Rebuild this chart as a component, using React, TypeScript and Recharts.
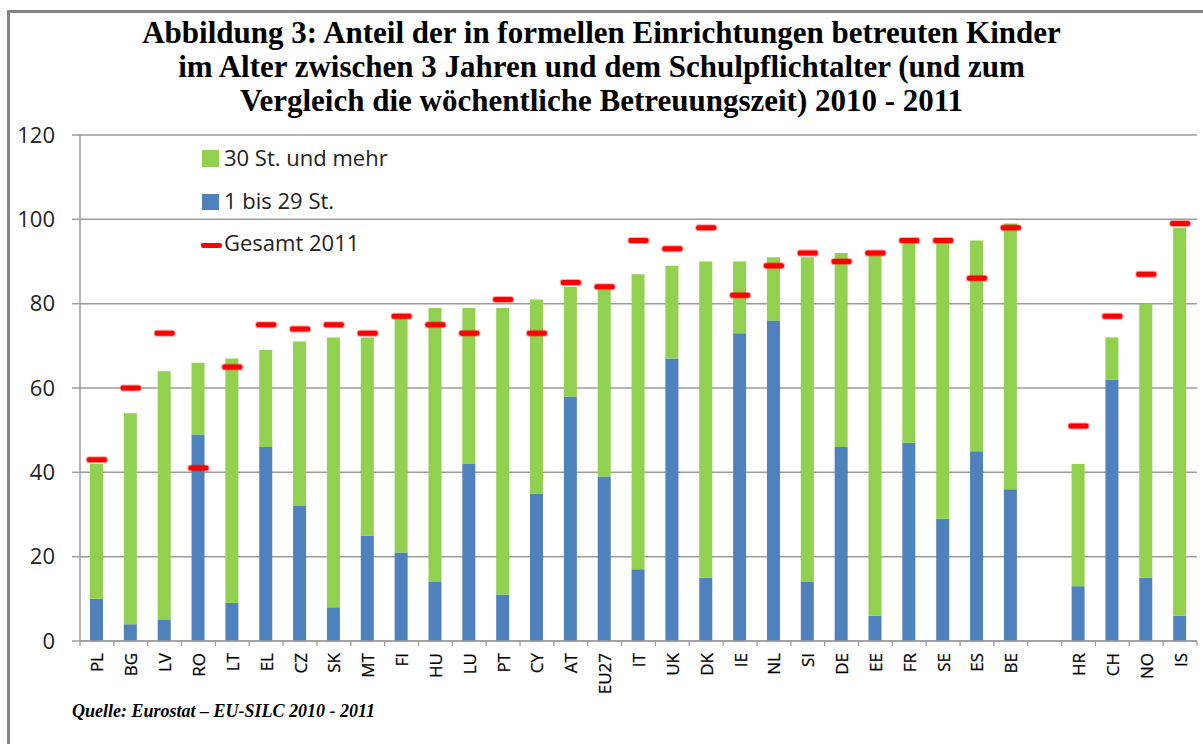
import React from 'react';
import { ComposedChart, Bar, Line, XAxis, YAxis, CartesianGrid } from 'recharts';

const countries = ['PL','BG','LV','RO','LT','EL','CZ','SK','MT','FI','HU','LU','PT','CY','AT','EU27','IT','UK','DK','IE','NL','SI','DE','EE','FR','SE','ES','BE','','HR','CH','NO','IS'];
const hours1to29 = [10,4,5,49,9,46,32,8,25,21,14,42,11,35,58,39,17,67,15,73,76,14,46,6,47,29,45,36,null,13,62,15,6];
const hours30plus = [32,50,59,17,58,23,39,64,47,56,65,37,68,46,26,45,70,22,75,17,15,77,46,85.5,48,66,50,63,null,29,10,65,92];
const total2011 = [43,60,73,41,65,75,74,75,73,77,75,73,81,73,85,84,95,93,98,82,89,92,90,92,95,95,86,98,null,51,77,87,99];
const yTicks = [0,20,40,60,80,100,120];

const titleLines = [
  'Abbildung 3: Anteil der in formellen Einrichtungen betreuten Kinder',
  'im Alter zwischen 3 Jahren und dem Schulpflichtalter (und zum',
  'Vergleich die wöchentliche Betreuungszeit) 2010 - 2011',
];
const sourceText = 'Quelle: Eurostat – EU-SILC 2010 - 2011';
const legendLabels = ['30 St. und mehr', '1 bis 29 St.', 'Gesamt 2011'];

const data = countries.map((c, i) => ({
  country: c,
  h1: hours1to29[i],
  h30: hours30plus[i],
  total: total2011[i],
}));

const W = 1203;
const H = 744;
const PLOT_LEFT = 80;
const PLOT_RIGHT = 1197;
const BAND = (PLOT_RIGHT - PLOT_LEFT) / countries.length;

const BLUE = '#4f81bd';
const GREEN = '#92d050';
const RED = '#ff0000';
const GRID = '#9c9c9c';
const SANS = '"Open Sans", "DejaVu Sans", sans-serif';
const SERIF = '"Liberation Serif", "Times New Roman", serif';

function XTick(props: any) {
  const { x, y, payload, index } = props;
  const last = index === countries.length - 1;
  return (
    <g>
      <line x1={x - BAND / 2} y1={y} x2={x - BAND / 2} y2={y + 5} stroke={GRID} strokeWidth={1.3} />
      {last && <line x1={x + BAND / 2} y1={y} x2={x + BAND / 2} y2={y + 5} stroke={GRID} strokeWidth={1.3} />}
      <text
        x={x}
        y={y + 12}
        transform={`rotate(-90, ${x}, ${y + 12})`}
        textAnchor="end"
        dominantBaseline="central"
        fontFamily={SANS}
        fontSize={17}
        fill="#000"
        stroke="#000"
        strokeWidth={0.25}
      >
        {payload.value}
      </text>
    </g>
  );
}

function Dash(props: any) {
  const { cx, cy, value } = props;
  if (value == null || cy == null || isNaN(cy)) return <g />;
  return (
    <g>
      <rect x={cx - 11} y={cy - 3.5} width={22} height={7} rx={3} fill="rgba(255,0,0,0.35)" />
      <rect x={cx - 10} y={cy - 2.5} width={20} height={5} rx={2} fill={RED} />
    </g>
  );
}

export default function App() {
  return (
    <div style={{ position: 'fixed', left: 0, top: 0, width: W, height: H, background: '#fff', overflow: 'hidden' }}>
      <div
        style={{
          position: 'absolute',
          left: 7,
          top: 10,
          width: W,
          height: H,
          borderLeft: '3px solid #858585',
          borderTop: '3px solid #858585',
        }}
      />
      <div
        style={{
          position: 'absolute',
          left: 0,
          top: 16,
          width: W,
          textAlign: 'center',
          fontFamily: SERIF,
          fontWeight: 'bold',
          fontSize: 31,
          lineHeight: '34px',
          color: '#000',
        }}
      >
        {titleLines.map((t, i) => (
          <div key={i}>{t}</div>
        ))}
      </div>
      <div style={{ position: 'absolute', left: 0, top: 0 }}>
        <ComposedChart
          width={W}
          height={H}
          data={data}
          margin={{ top: 135, right: W - PLOT_RIGHT, bottom: 43, left: 0 }}
          barCategoryGap={0}
        >
          <CartesianGrid vertical={false} stroke={GRID} strokeWidth={1.5} />
          <XAxis
            dataKey="country"
            interval={0}
            height={60}
            tickLine={false}
            tickSize={0}
            tickMargin={0}
            axisLine={{ stroke: GRID, strokeWidth: 1.5 }}
            tick={<XTick />}
          />
          <YAxis
            width={PLOT_LEFT}
            domain={[0, 120]}
            ticks={yTicks}
            interval={0}
            tickSize={8}
            tickMargin={17}
            axisLine={{ stroke: GRID, strokeWidth: 1.5 }}
            tickLine={{ stroke: GRID, strokeWidth: 1.5 }}
            tick={{ fontFamily: SANS, fontSize: 22, fill: '#222' }}
          />
          <Bar dataKey="h1" stackId="a" fill={BLUE} barSize={13} isAnimationActive={false} />
          <Bar dataKey="h30" stackId="a" fill={GREEN} barSize={13} isAnimationActive={false} />
          <Line
            dataKey="total"
            stroke="none"
            dot={<Dash />}
            activeDot={false}
            isAnimationActive={false}
            legendType="none"
          />
        </ComposedChart>
      </div>
      {/* Legend */}
      <div style={{ position: 'absolute', left: 202, top: 150, width: 17, height: 17, background: GREEN }} />
      <div style={{ position: 'absolute', left: 202, top: 194, width: 17, height: 16, background: BLUE }} />
      <div style={{ position: 'absolute', left: 201, top: 243, width: 21, height: 5, background: RED, borderRadius: 2 }} />
      {legendLabels.map((l, i) => (
        <div
          key={i}
          style={{
            position: 'absolute',
            left: 224,
            top: [142, 185, 227][i],
            fontFamily: SANS,
            fontSize: 22,
            lineHeight: '30px',
            color: '#222',
            whiteSpace: 'nowrap',
          }}
        >
          {l}
        </div>
      ))}
      <div
        style={{
          position: 'absolute',
          left: 72,
          top: 701,
          fontFamily: SERIF,
          fontStyle: 'italic',
          fontWeight: 'bold',
          fontSize: 18,
          lineHeight: '20px',
          color: '#000',
          whiteSpace: 'nowrap',
        }}
      >
        {sourceText}
      </div>
    </div>
  );
}
